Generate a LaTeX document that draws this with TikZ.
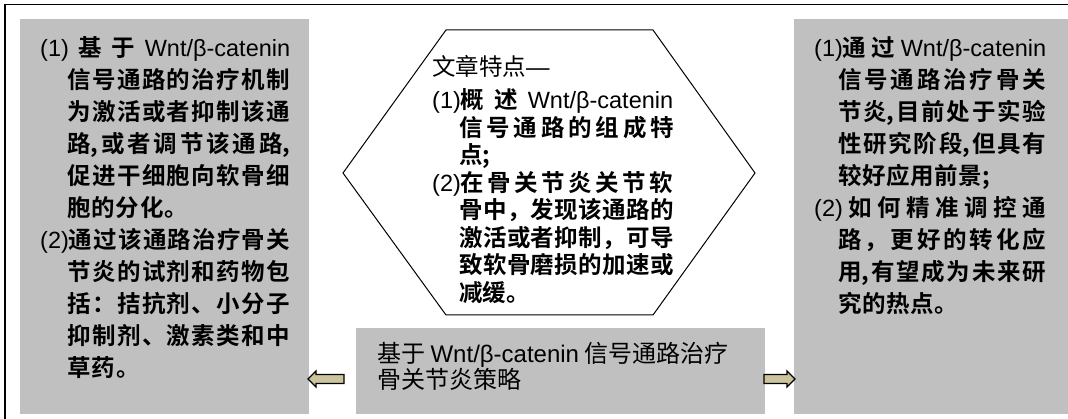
\documentclass[tikz,border=0pt]{standalone}
\usepackage{fontspec}
\setmainfont{Liberation Sans}
\newfontfamily\cjk{Noto Sans CJK SC}[BoldFont={Noto Sans CJK SC Bold}]
\newfontfamily\lat{Liberation Sans}
\newcommand\J[2]{\makebox[#1][s]{\spaceskip=0pt plus 1fil\relax\frenchspacing#2}}
\newcommand\W[1]{{\lat\mdseries#1}}
\newcommand\ind{\hspace*{27pt}}
\newcommand\indr{\hspace*{24pt}}
\definecolor{boxgray}{RGB}{192,192,192}
\definecolor{arrowtan}{RGB}{204,196,156}
\tikzset{
  gbox/.style={fill=boxgray, draw=none, inner sep=0, anchor=north west},
  bodytext/.style={anchor=north west, inner sep=0, align=left,
    font=\cjk\bfseries\fontsize{23.5}{32}\selectfont},
  blockarrow/.style={draw=black, line width=1.2pt, fill=arrowtan, line join=miter},
}
\begin{document}
\begin{tikzpicture}[x=1pt,y=-1pt]
\useasboundingbox (0,0) rectangle (1068,419);
\draw[line width=1.5pt] (5,4.5) rectangle (1080,430);
% gray boxes
\node[gbox, minimum width=289pt, minimum height=395pt] (left) at (20,19) {};
\node[gbox, minimum width=280pt, minimum height=395pt] (right) at (794,19) {};
\node[gbox, minimum width=409pt, minimum height=86pt] (bottom) at (356,328) {};
% hexagon
\draw[line width=1pt, line join=miter] (343,173) -- (446,30) -- (653,30) -- (755,173) -- (653,315) -- (446,315) -- cycle;
% left text
\node[bodytext] (lt) at (40,36.5) {%
\J{250pt}{\W{(1)} 基 于 \W{Wnt/β-catenin}}\\
\ind\J{223pt}{信 号 通 路 的 治 疗 机 制}\\
\ind\J{223pt}{为 激 活 或 者 抑 制 该 通}\\
\ind\J{223pt}{路, 或 者 调 节 该 通 路,}\\
\ind\J{223pt}{促 进 干 细 胞 向 软 骨 细}\\
\ind\J{121pt}{胞 的 分 化 。}\\
\J{250pt}{\W{(2)}通 过 该 通 路 治 疗 骨 关}\\
\ind\J{223pt}{节 炎 的 试 剂 和 药 物 包}\\
\ind\J{223pt}{括 ： 拮 抗 剂 、 小 分 子}\\
\ind\J{223pt}{抑 制 剂 、 激 素 类 和 中}\\
\ind\J{73pt}{草 药 。}};
% right text
\node[bodytext] (rt) at (814,36.5) {%
\J{232pt}{\W{(1)}通 过 \W{Wnt/β-catenin}}\\
\indr\J{208pt}{信 号 通 路 治 疗 骨 关}\\
\indr\J{208pt}{节 炎, 目 前 处 于 实 验}\\
\indr\J{208pt}{性 研 究 阶 段, 但 具 有}\\
\indr\J{152pt}{较 好 应 用 前 景 ;}\\
\J{232pt}{\W{(2)} 如 何 精 准 调 控 通}\\
\indr\J{208pt}{路 ， 更 好 的 转 化 应}\\
\indr\J{208pt}{用, 有 望 成 为 未 来 研}\\
\indr\J{120pt}{究 的 热 点 。}};
% hexagon text
\node[bodytext, font=\cjk\bfseries\fontsize{23.5}{27.5}\selectfont] (ht) at (432,55.5) {%
{\mdseries 文章特点\W{—}}\\[5.5pt]
\J{241pt}{\W{(1)}概 述 \W{Wnt/β-catenin}}\\
\ind\J{215pt}{信 号 通 路 的 组 成 特}\\
\ind 点;\\
\J{241pt}{\W{(2)}在 骨 关 节 炎 关 节 软}\\
\ind\J{215pt}{骨 中 ， 发 现 该 通 路 的}\\
\ind\J{215pt}{激 活 或 者 抑 制 ， 可 导}\\
\ind\J{215pt}{致 软 骨 磨 损 的 加 速 或}\\
\ind 减缓。};
% bottom text
\node[bodytext, font=\cjk\fontsize{24}{25}\selectfont] (bt) at (377,342) {%
基于 \W{Wnt/β-catenin} 信号通路治疗\\
骨关节炎策略};
% block arrows
\coordinate (la) at (308,379);
\coordinate (ra) at (795,379);
\draw[blockarrow] (la) -- ++(8,-8) -- ++(0,3.5) -- ++(28,0) -- ++(0,9) -- ++(-28,0) -- ++(0,3.5) -- cycle;
\draw[blockarrow] (ra) -- ++(-8,-8) -- ++(0,3.5) -- ++(-23,0) -- ++(0,9) -- ++(23,0) -- ++(0,3.5) -- cycle;
\end{tikzpicture}
\end{document}
